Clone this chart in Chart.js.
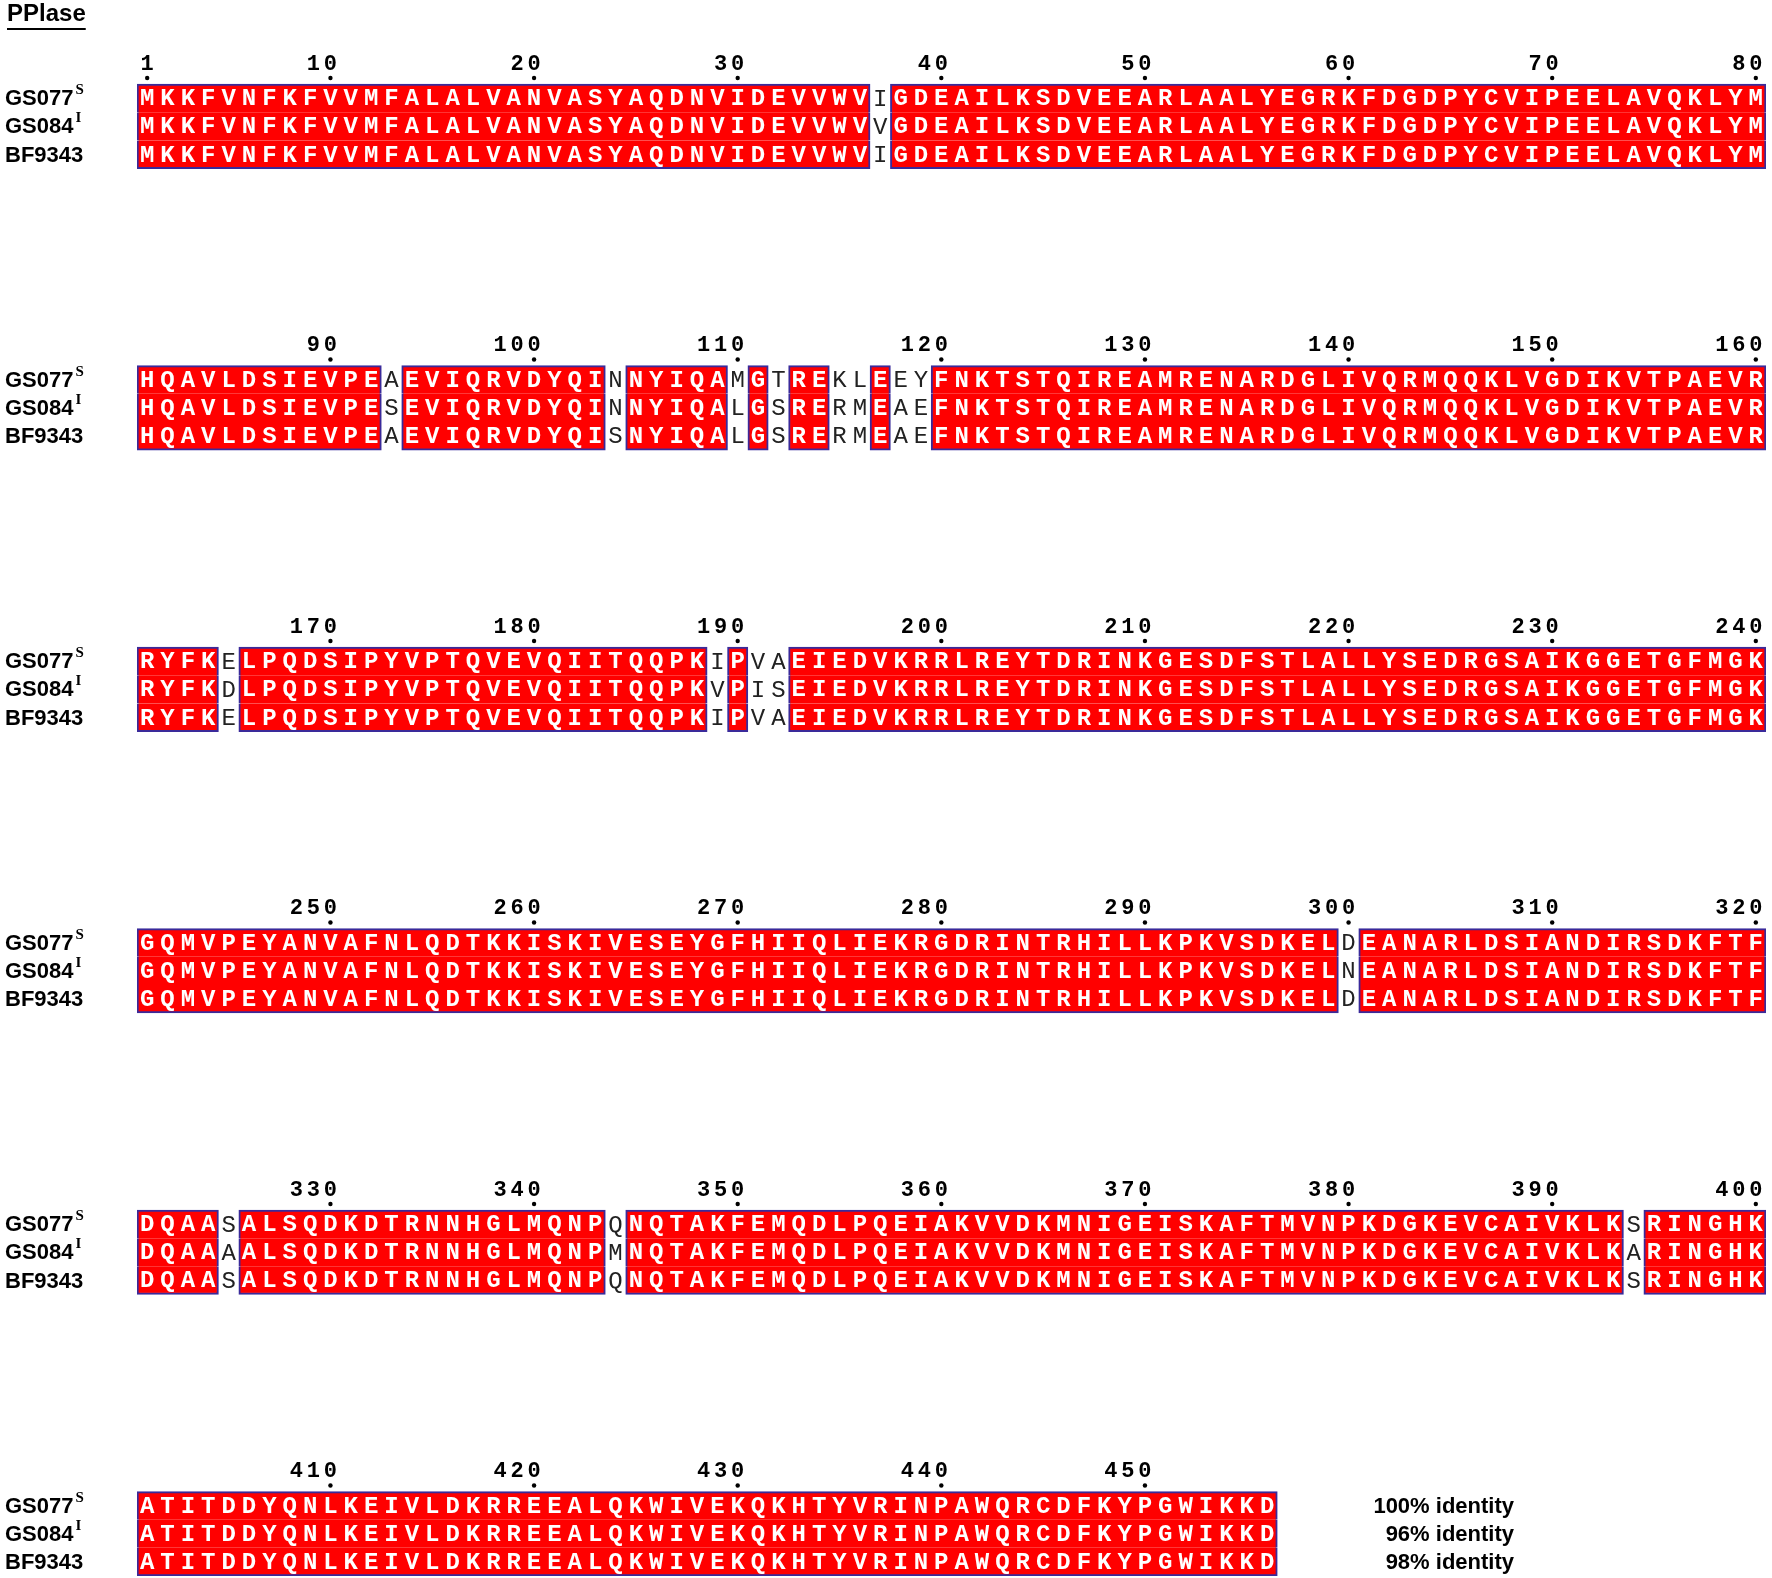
<!DOCTYPE html>
<html><head><meta charset="utf-8">
<script src="https://cdn.jsdelivr.net/npm/chart.js@4/dist/chart.umd.min.js"></script>
<style>html,body{margin:0;padding:0;background:#fff}#w{position:relative;width:1772px;height:1578px}</style>
</head><body><div id="w"><canvas id="c" width="1772" height="1578" style="width:1772px;height:1578px"></canvas></div>
<script>
const seqNames = ["GS077", "GS084", "BF9343"];
const seqSup = ["S", "I", ""];
const seqGS077 = "MKKFVNFKFVVMFALALVANVASYAQDNVIDEVVWVIGDEAILKSDVEEARLAALYEGRKFDGDPYCVIPEELAVQKLYMHQAVLDSIEVPEAEVIQRVDYQINNYIQAMGTREKLEEYFNKTSTQIREAMRENARDGLIVQRMQQKLVGDIKVTPAEVRRYFKELPQDSIPYVPTQVEVQIITQQPKIPVAEIEDVKRRLREYTDRINKGESDFSTLALLYSEDRGSAIKGGETGFMGKGQMVPEYANVAFNLQDTKKISKIVESEYGFHIIQLIEKRGDRINTRHILLKPKVSDKELDEANARLDSIANDIRSDKFTFDQAASALSQDKDTRNNHGLMQNPQNQTAKFEMQDLPQEIAKVVDKMNIGEISKAFTMVNPKDGKEVCAIVKLKSRINGHKATITDDYQNLKEIVLDKRREEALQKWIVEKQKHTYVRINPAWQRCDFKYPGWIKKD";
const seqGS084 = "MKKFVNFKFVVMFALALVANVASYAQDNVIDEVVWVVGDEAILKSDVEEARLAALYEGRKFDGDPYCVIPEELAVQKLYMHQAVLDSIEVPESEVIQRVDYQINNYIQALGSRERMEAEFNKTSTQIREAMRENARDGLIVQRMQQKLVGDIKVTPAEVRRYFKDLPQDSIPYVPTQVEVQIITQQPKVPISEIEDVKRRLREYTDRINKGESDFSTLALLYSEDRGSAIKGGETGFMGKGQMVPEYANVAFNLQDTKKISKIVESEYGFHIIQLIEKRGDRINTRHILLKPKVSDKELNEANARLDSIANDIRSDKFTFDQAAAALSQDKDTRNNHGLMQNPMNQTAKFEMQDLPQEIAKVVDKMNIGEISKAFTMVNPKDGKEVCAIVKLKARINGHKATITDDYQNLKEIVLDKRREEALQKWIVEKQKHTYVRINPAWQRCDFKYPGWIKKD";
const seqBF9343 = "MKKFVNFKFVVMFALALVANVASYAQDNVIDEVVWVIGDEAILKSDVEEARLAALYEGRKFDGDPYCVIPEELAVQKLYMHQAVLDSIEVPEAEVIQRVDYQISNYIQALGSRERMEAEFNKTSTQIREAMRENARDGLIVQRMQQKLVGDIKVTPAEVRRYFKELPQDSIPYVPTQVEVQIITQQPKIPVAEIEDVKRRLREYTDRINKGESDFSTLALLYSEDRGSAIKGGETGFMGKGQMVPEYANVAFNLQDTKKISKIVESEYGFHIIQLIEKRGDRINTRHILLKPKVSDKELDEANARLDSIANDIRSDKFTFDQAASALSQDKDTRNNHGLMQNPQNQTAKFEMQDLPQEIAKVVDKMNIGEISKAFTMVNPKDGKEVCAIVKLKSRINGHKATITDDYQNLKEIVLDKRREEALQKWIVEKQKHTYVRINPAWQRCDFKYPGWIKKD";
const identityLabels = ["100% identity", "96% identity", "98% identity"];
const blockSize = 80;
const rowsPerBlock = 10;

const seqs = [seqGS077, seqGS084, seqBF9343];
const L = seqGS077.length;
const nBlocks = Math.ceil(L / blockSize);
const nRows = (nBlocks - 1) * rowsPerBlock + 4;
const rowLabels = Array.from({length: nRows}, (_, i) => "r" + i);

const segs = [];
for (let b = 0; b < nBlocks; b++) {
  let start = null;
  const end = Math.min(L, (b + 1) * blockSize);
  for (let p = b * blockSize; p <= end; p++) {
    const cons = p < end && seqs.every(s => s[p] === seqs[0][p]);
    if (cons && start === null) start = p;
    if (!cons && start !== null) { segs.push({b, s: start - b * blockSize + 1, e: p - b * blockSize}); start = null; }
  }
}
function mk(k, bw) {
  return {
    data: segs.map(g => ({y: rowLabels[g.b * rowsPerBlock + 1 + k], x: [g.s - 0.5, g.e + 0.5]})),
    backgroundColor: "#ff0000", borderColor: "#3a2a9a", borderWidth: bw, borderSkipped: false,
    barPercentage: 1, categoryPercentage: 1, grouped: false
  };
}
const textPlugin = {
  id: "txt",
  afterDatasetsDraw(chart) {
    const ctx = chart.ctx, xs = chart.scales.x, ys = chart.scales.y;
    ctx.save();
    ctx.textBaseline = "middle";
    for (let b = 0; b < nBlocks; b++) {
      const r0 = b * rowsPerBlock;
      const yr = ys.getPixelForValue(r0);
      for (let i = 1; i <= blockSize; i++) {
        const pos = b * blockSize + i;
        if (pos > L) break;
        if (pos === 1 || pos % 10 === 0) {
          const x = xs.getPixelForValue(i);
          const str = String(pos);
          ctx.fillStyle = "#000";
          ctx.font = "bold 22px 'Liberation Mono'";
          ctx.textAlign = "center";
          for (let d = 0; d < str.length; d++) ctx.fillText(str[str.length - 1 - d], x - d * 17, yr - 6);
          ctx.beginPath(); ctx.arc(x, yr + 8, 2.2, 0, 7); ctx.fill();
        }
      }
      for (let k = 0; k < 3; k++) {
        const y = ys.getPixelForValue(r0 + 1 + k);
        ctx.textAlign = "left"; ctx.fillStyle = "#000";
        ctx.font = "bold 22px 'Liberation Sans'";
        ctx.fillText(seqNames[k], 5, y + 1);
        const w = ctx.measureText(seqNames[k]).width;
        ctx.font = "bold 15px 'Liberation Serif'";
        ctx.fillText(seqSup[k], 5 + w + 2, y - 8);
        ctx.textAlign = "center";
        for (let i = 1; i <= blockSize; i++) {
          const p = b * blockSize + i - 1;
          if (p >= L) break;
          const cons = seqs.every(s => s[p] === seqs[0][p]);
          const x = xs.getPixelForValue(i);
          if (cons) { ctx.fillStyle = "#fff"; ctx.font = "bold 24px 'Liberation Mono'"; }
          else { ctx.fillStyle = "#222"; ctx.font = "24px 'Liberation Mono'"; }
          ctx.fillText(seqs[k][p], x, y + 1);
        }
        if (b === nBlocks - 1) {
          ctx.textAlign = "right"; ctx.fillStyle = "#000";
          ctx.font = "bold 22px 'Liberation Sans'";
          ctx.fillText(identityLabels[k], 1514, y + 1);
        }
      }
    }
    ctx.textAlign = "left"; ctx.font = "bold 24px 'Liberation Sans'"; ctx.fillStyle = "#000";
    ctx.fillText("PPlase", 7, 14);
    const tw = ctx.measureText("PPlase").width;
    ctx.fillRect(7, 28, tw, 2);
    ctx.restore();
  }
};
new Chart(document.getElementById("c"), {
  type: "bar",
  data: {labels: rowLabels, datasets: [
    mk(0, {top: 2, left: 2, right: 2, bottom: 0}),
    mk(1, {top: 0, left: 2, right: 2, bottom: 0}),
    mk(2, {top: 0, left: 2, right: 2, bottom: 2})
  ]},
  options: {
    indexAxis: "y", responsive: false, animation: false, devicePixelRatio: 1,
    layout: {padding: {left: 137, right: 6, top: 56, bottom: 2}},
    plugins: {legend: {display: false}, tooltip: {enabled: false}},
    scales: {
      x: {type: "linear", min: 0.5, max: 80.5, display: false},
      y: {type: "category", display: false, offset: true}
    }
  },
  plugins: [textPlugin]
});
</script></body></html>
